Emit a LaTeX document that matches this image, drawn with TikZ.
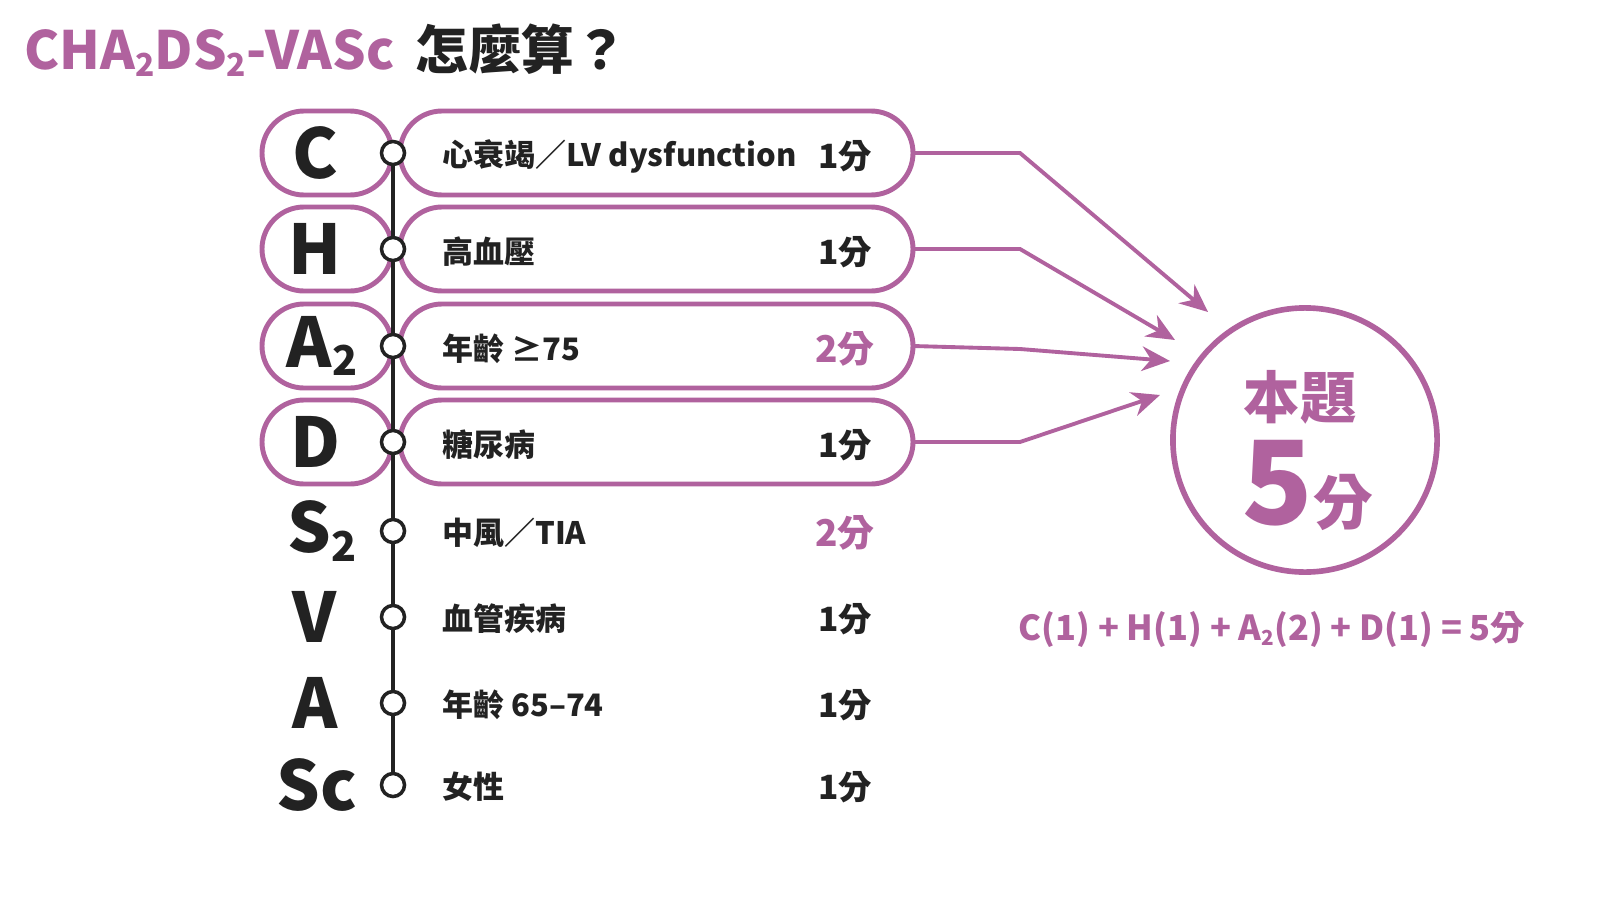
\documentclass[tikz,border=0pt]{standalone}
\usepackage{fontspec}
\setmainfont{Noto Sans CJK TC}
\usetikzlibrary{arrows.meta}
\definecolor{pk}{HTML}{B0629E}
\definecolor{dk}{HTML}{222222}
\newcommand{\mysub}[1]{\raisebox{-0.12em}{\scalebox{0.6}{#1}}}
\begin{document}
\begin{tikzpicture}[x=0.01cm,y=-0.01cm,
 lt/.style={font=\fontsize{19.5}{20}\selectfont\bfseries,text=dk},
 it/.style={font=\fontsize{8.8}{9}\selectfont\bfseries,text=dk,anchor=west},
 sc/.style={font=\fontsize{9.5}{10}\selectfont\bfseries,text=dk},
 sp/.style={font=\fontsize{10.5}{11}\selectfont\bfseries,text=pk},
 dot/.style={circle,draw=dk,line width=1pt,fill=white,minimum size=0.23cm,inner sep=0pt},
 arr/.style={draw=pk,line width=1.1pt,-{Stealth[length=8pt,width=7pt]}}]
\useasboundingbox (0,0) rectangle (1600,900);
\fill[white] (0,0) rectangle (1600,900);
\node[anchor=west,inner sep=0pt] (title) at (24,50) {\fontsize{15}{16}\selectfont\bfseries\textcolor{pk}{CHA\mysub{2}DS\mysub{2}-VASc}\textcolor{dk}{\hspace{0.4em}怎麼算？}};
\foreach \y/\n in {153/1,249/2,346/3,442/4}{
 \draw[pk,line width=1.4pt,rounded corners=0.42cm] (262,\y-42) rectangle (392,\y+42);
 \draw[pk,line width=1.4pt,rounded corners=0.42cm] (400,\y-42) rectangle (913,\y+42);
 \coordinate (pe\n) at (913,\y);
}
\draw[dk,line width=1.2pt] (393,153) -- (393,785);
\foreach \y/\n in {153/1,249/2,346/3,442/4,531/5,617/6,703/7,785/8}{\node[dot] (d\n) at (393,\y) {};}
\node[lt] (L1) at (315,153) {C};
\node[lt] (L2) at (315,249) {H};
\node[lt] (L3) at (322,346) {A\mysub{2}};
\node[lt] (L4) at (315,442) {D};
\node[lt] (L5) at (322,531) {S\mysub{2}};
\node[lt] (L6) at (315,617) {V};
\node[lt] (L7) at (315,703) {A};
\node[lt] (L8) at (317,785) {Sc};
\node[it] (t1) at (430,156) {心衰竭／LV dysfunction};
\node[it] (t2) at (430,252) {高血壓};
\node[it] (t3) at (430,349) {年齡 ≥75};
\node[it] (t4) at (430,445) {糖尿病};
\node[it] (t5) at (430,533) {中風／TIA};
\node[it] (t6) at (430,619) {血管疾病};
\node[it] (t7) at (430,705) {年齡 65–74};
\node[it] (t8) at (430,787) {女性};
\node[sc] (s1) at (845,156) {1分};
\node[sc] (s2) at (845,252) {1分};
\node[sp] (s3) at (845,349) {2分};
\node[sc] (s4) at (845,445) {1分};
\node[sp] (s5) at (845,533) {2分};
\node[sc] (s6) at (845,619) {1分};
\node[sc] (s7) at (845,705) {1分};
\node[sc] (s8) at (845,787) {1分};
\node[circle,draw=pk,line width=1.6pt,minimum size=2.64cm,inner sep=0pt] (res) at (1305,440) {};
\node[font=\fontsize{16}{16}\selectfont\bfseries,text=pk] (r1) at (1300,397) {本題};
\node[text=pk,font=\bfseries] (r2) at (1308,485) {\fontsize{33}{33}\selectfont 5\fontsize{17}{17}\selectfont 分};
\node[font=\fontsize{9.8}{10}\selectfont\bfseries,text=pk] (f) at (1272,630) {C(1) + H(1) + A\mysub{2}(2) + D(1) = 5分};
\coordinate (a1) at (1208,312);\coordinate (a2) at (1175,340);
\coordinate (a3) at (1170,361);\coordinate (a4) at (1160,395);
\draw[arr] (pe1) -- (1020,153) -- (a1);
\draw[arr] (pe2) -- (1020,249) -- (a2);
\draw[arr] (pe3) -- (1020,349) -- (a3);
\draw[arr] (pe4) -- (1020,442) -- (a4);
\end{tikzpicture}
\end{document}
